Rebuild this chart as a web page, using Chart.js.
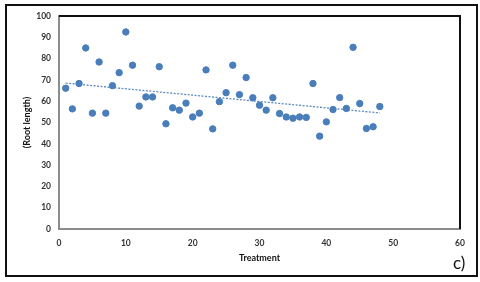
<!DOCTYPE html>
<html>
<head>
<meta charset="utf-8">
<script src="https://cdn.jsdelivr.net/npm/chart.js@4.4.0/dist/chart.umd.min.js"></script>
<style>
  html, body { margin: 0; padding: 0; background: #fff; }
  #wrap { width: 480px; height: 282px; position: relative; }
</style>
</head>
<body>
<div id="wrap"><canvas id="rootChart" width="480" height="282"></canvas></div>
<script>
// values
const treatment = [1, 2, 3, 4, 5, 6, 7, 8, 9, 10, 11, 12, 13, 14, 15, 16, 17, 18, 19, 20, 21, 22, 23, 24,
                   25, 26, 27, 28, 29, 30, 31, 32, 33, 34, 35, 36, 37, 38, 39, 40, 41, 42, 43, 44, 45, 46, 47, 48]
const rootLength = [66.1, 56.4, 68.3, 85, 54.4, 78.4, 54.4, 67.3, 73.4, 92.5, 76.9, 57.7, 62, 62, 76.2, 49.4,
                    56.9, 55.8, 59.1, 52.6, 54.4, 74.7, 47, 59.8, 64, 76.9, 63.1, 71.1, 61.6, 58.1, 55.8, 61.6,
                    54.2, 52.6, 52, 52.6, 52.4, 68.3, 43.6, 50.3, 56.1, 61.7, 56.6, 85.3, 58.9, 47.2, 48, 57.5]
// dotted linear trend line, endpoints
const trendX = [1, 48]
const trendY = [68.5, 54.5]
const xTicks = [0, 10, 20, 30, 40, 50, 60]
const yTicks = [0, 10, 20, 30, 40, 50, 60, 70, 80, 90, 100]

const blue = '#4a7ebb'
const fontFam = 'Lato, "Liberation Sans", sans-serif'

/*=============== FRAMES ===============*/
const framePlugin = {
  id: 'frames',
  beforeDraw(chart) {
    const c = chart.ctx
    c.save()
    c.fillStyle = '#fff'
    c.fillRect(0, 0, chart.width, chart.height)
    c.restore()
  },
  afterDraw(chart) {
    const c = chart.ctx, a = chart.chartArea
    c.save()
    // outer box
    c.strokeStyle = '#111'
    c.lineWidth = 2
    c.strokeRect(6, 5, 471, 271)
    // top & right edges of the plot box
    c.lineWidth = 2
    c.beginPath()
    c.moveTo(a.left, a.top)
    c.lineTo(a.right, a.top)
    c.lineTo(a.right, a.bottom)
    c.stroke()
    // panel label
    c.fillStyle = '#111'
    c.font = '17px ' + fontFam
    c.textAlign = 'left'
    c.textBaseline = 'middle'
    c.fillText('c)', 453, 264)
    c.restore()
  }
}

new Chart(document.getElementById('rootChart'), {
  type: 'scatter',
  data: {
    datasets: [{
      label: 'Root length',
      data: treatment.map((t, i) => ({ x: t, y: rootLength[i] })),
      backgroundColor: blue,
      borderColor: blue,
      pointRadius: 3.2,
      pointHoverRadius: 3.2,
      order: 1
    }, {
      label: 'Trend',
      type: 'line',
      data: trendX.map((t, i) => ({ x: t, y: trendY[i] })),
      borderColor: '#5b8ac4',
      borderWidth: 1.3,
      borderDash: [2, 1.5],
      pointRadius: 0,
      fill: false,
      order: 2
    }]
  },
  options: {
    responsive: false,
    animation: false,
    events: [],
    layout: { padding: { left: 0, top: 16, right: 20, bottom: 0 } },
    plugins: { legend: { display: false }, tooltip: { enabled: false } },
    scales: {
      x: {
        type: 'linear',
        min: 0, max: 60,
        afterFit: s => { s.height = 53 },
        afterBuildTicks: s => { s.ticks = xTicks.map(v => ({ value: v })) },
        grid: { display: false, drawTicks: false },
        border: { display: true, color: '#8c8c8c', width: 2 },
        ticks: { color: '#333', padding: 9, font: { family: fontFam, size: 8.5, weight: 'bold' } },
        title: { display: true, text: 'Treatment', color: '#111', padding: { top: 0, bottom: 19 },
                 font: { family: fontFam, size: 9, weight: 'bold' } }
      },
      y: {
        min: 0, max: 100,
        afterFit: s => { s.width = 59 },
        afterBuildTicks: s => { s.ticks = yTicks.map(v => ({ value: v })) },
        grid: { display: false, drawTicks: false },
        border: { display: true, color: '#8c8c8c', width: 2 },
        ticks: { color: '#333', padding: 8, font: { family: fontFam, size: 8.5, weight: 'bold' } },
        title: { display: true, text: '(Root length)', color: '#111', padding: { top: 22, bottom: 0 },
                 font: { family: fontFam, size: 9, weight: 'bold' } }
      }
    }
  },
  plugins: [framePlugin]
})
</script>
</body>
</html>
